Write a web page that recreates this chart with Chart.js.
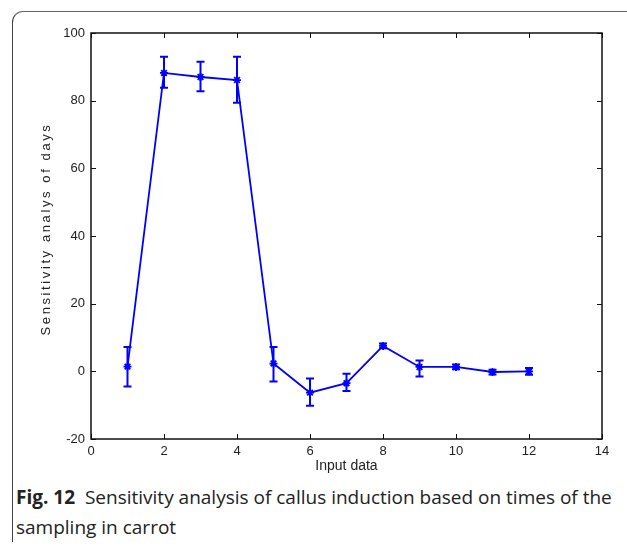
<!DOCTYPE html>
<html>
<head>
<meta charset="utf-8">
<script src="https://cdn.jsdelivr.net/npm/chart.js@4"></script>
<style>
  html,body{margin:0;padding:0;background:#fff;}
  body{width:627px;height:546px;position:relative;overflow:hidden;}
  .frame{position:absolute;left:12px;top:11px;width:640px;height:530px;border-top:1.5px solid #666;border-left:1.5px solid #444;border-top-left-radius:11px;}
  .plot{position:absolute;left:0;top:0;width:627px;height:480px;}
  .caption{position:absolute;left:16px;top:482px;width:611px;font-family:"Open Sans",sans-serif;font-size:19px;line-height:30px;color:#222;white-space:nowrap;}
  .caption b{font-weight:700;}
</style>
</head>
<body>
<div class="frame"></div>
<div class="plot"><canvas id="chartSens"></canvas></div>
<div class="caption"><b>Fig. 12</b>&nbsp; Sensitivity analysis of callus induction based on times of the<br>sampling in carrot</div>
<script>
// ---------- data: sensitivity per input (mean + error range) ----------
const inputX   = [1, 2, 3, 4, 5, 6, 7, 8, 9, 10, 11, 12];
const sensMean = [1.4, 88.2, 87.0, 86.1, 2.3, -6.3, -3.5, 7.5, 1.3, 1.3, -0.2, 0];
const errHigh  = [7.2, 93.0, 91.5, 93.0, 7.2, -2.1, -0.7, 8.2, 3.2, 2.0, 0.5, 1.0];
const errLow   = [-4.5, 83.8, 82.8, 79.4, -3.0, -10.2, -5.8, 6.8, -1.5, 0.6, -0.9, -1.0];
const xTicks   = [0, 2, 4, 6, 8, 10, 12, 14];
const yTicks   = [-20, 0, 20, 40, 60, 80, 100];
const yTitle   = 'Sensitivity analys of days';

const BLUE = '#0000ff';
const FONT_FAMILY = '"Liberation Sans", Arial, sans-serif';
const AXIS_FONT = { family:FONT_FAMILY, size:13 };

// error bars drawn on top of the line, with small caps
const errorBars = {
  id:'errorBars',
  afterDatasetsDraw(chart){
    const {ctx, scales:{x, y}} = chart;
    ctx.save();
    ctx.strokeStyle = BLUE; ctx.lineWidth = 2;
    inputX.forEach((v,i)=>{
      const px = x.getPixelForValue(v);
      const top = y.getPixelForValue(errHigh[i]), bot = y.getPixelForValue(errLow[i]);
      ctx.beginPath();
      ctx.moveTo(px, top); ctx.lineTo(px, bot);
      ctx.moveTo(px-4, top); ctx.lineTo(px+4, top);
      ctx.moveTo(px-4, bot); ctx.lineTo(px+4, bot);
      ctx.stroke();
    });
    ctx.restore();
  }
};

// matlab-style box with inward ticks on all four sides + spaced y title
const axesBox = {
  id:'axesBox',
  afterDraw(chart){
    const {ctx, chartArea:a, scales:{x, y}} = chart;
    const tl = 5;
    ctx.save();
    ctx.strokeStyle = '#111'; ctx.lineWidth = 1.5;
    ctx.strokeRect(a.left, a.top, a.right-a.left, a.bottom-a.top);
    ctx.lineWidth = 1;
    ctx.beginPath();
    xTicks.forEach(v=>{
      const px = Math.round(x.getPixelForValue(v))+0.5;
      ctx.moveTo(px, a.bottom); ctx.lineTo(px, a.bottom-tl);
      ctx.moveTo(px, a.top); ctx.lineTo(px, a.top+tl);
    });
    yTicks.forEach(v=>{
      const py = Math.round(y.getPixelForValue(v))+0.5;
      ctx.moveTo(a.left, py); ctx.lineTo(a.left+tl, py);
      ctx.moveTo(a.right, py); ctx.lineTo(a.right-tl, py);
    });
    ctx.stroke();

    ctx.translate(46, 229);
    ctx.rotate(-Math.PI/2);
    ctx.font = '13px ' + FONT_FAMILY;
    ctx.letterSpacing = '2.6px';
    ctx.fillStyle = '#222';
    ctx.textAlign = 'center'; ctx.textBaseline = 'middle';
    ctx.fillText(yTitle, 0, 0);
    ctx.restore();
  }
};

new Chart(document.getElementById('chartSens').getContext('2d'), {
  type:'line',
  data:{
    datasets:[{
      data:inputX.map((v,i)=>({x:v, y:sensMean[i]})),
      borderColor:BLUE, borderWidth:1.8, tension:0,
      pointStyle:'star', pointRadius:4, pointBorderColor:BLUE, pointBorderWidth:1.8,
      pointBackgroundColor:BLUE
    }]
  },
  options:{
    responsive:true, maintainAspectRatio:false, animation:false,
    layout:{ padding:{ left:0, right:25, top:33, bottom:0 } },
    plugins:{ legend:{display:false}, tooltip:{enabled:false} },
    scales:{
      x:{
        type:'linear', min:0, max:14,
        afterBuildTicks:s=>{ s.ticks = xTicks.map(v=>({value:v})); },
        afterFit:s=>{ s.height = 41; },
        grid:{display:false, drawTicks:false}, border:{display:false},
        ticks:{ color:'#222', font:AXIS_FONT, padding:5, maxRotation:0 },
        title:{ display:true, text:'Input data', color:'#222', font:{family:FONT_FAMILY, size:14}, padding:{top:0, bottom:5} }
      },
      y:{
        min:-20, max:100,
        afterBuildTicks:s=>{ s.ticks = yTicks.map(v=>({value:v})); },
        afterFit:s=>{ s.width = 91; },
        grid:{display:false, drawTicks:false}, border:{display:false},
        ticks:{ color:'#222', font:AXIS_FONT, padding:6 }
      }
    }
  },
  plugins:[errorBars, axesBox]
});
</script>
</body>
</html>
